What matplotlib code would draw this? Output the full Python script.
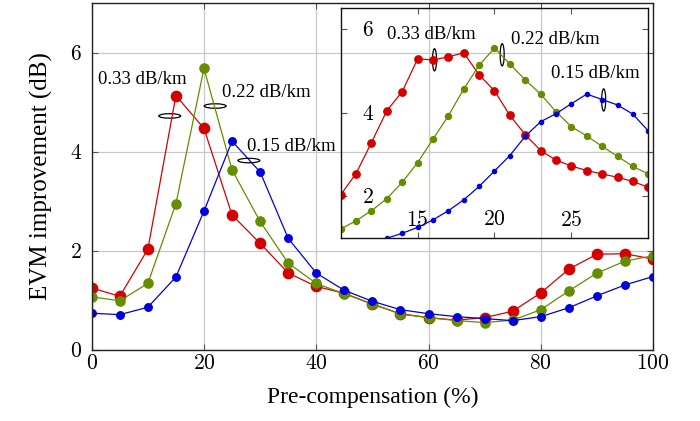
import matplotlib
matplotlib.use('Agg')
import matplotlib.pyplot as plt
from matplotlib.patches import Ellipse
from matplotlib.ticker import FuncFormatter

plt.rcParams['font.family'] = ['Liberation Serif', 'DejaVu Serif']
plt.rcParams['mathtext.fontset'] = 'cm'

# main plot data
x_main = [0, 5, 10, 15, 20, 25, 30, 35, 40, 45, 50, 55, 60, 65, 70, 75, 80, 85, 90, 95, 100]
red_main = [1.25, 1.08, 2.03, 5.13, 4.47, 2.72, 2.15, 1.55, 1.28, 1.14, 0.92, 0.73, 0.65, 0.60, 0.65, 0.78, 1.15, 1.63, 1.93, 1.94, 1.83]
green_main = [1.07, 0.99, 1.34, 2.95, 5.68, 3.63, 2.59, 1.75, 1.34, 1.13, 0.93, 0.72, 0.65, 0.59, 0.55, 0.60, 0.81, 1.19, 1.55, 1.79, 1.90]
blue_main = [0.74, 0.71, 0.86, 1.47, 2.80, 4.21, 3.59, 2.25, 1.55, 1.20, 0.98, 0.81, 0.73, 0.67, 0.63, 0.59, 0.67, 0.85, 1.09, 1.31, 1.48]

# inset data
x_in = list(range(10, 31))
red_in = [2.04, 2.55, 3.29, 4.05, 4.51, 5.29, 5.27, 5.34, 5.44, 4.91, 4.53, 3.94, 3.48, 3.10, 2.87, 2.73, 2.62, 2.54, 2.46, 2.36, 2.22]
green_in = [1.22, 1.42, 1.66, 1.95, 2.34, 2.81, 3.37, 3.93, 4.57, 5.14, 5.55, 5.17, 4.79, 4.45, 4.03, 3.67, 3.45, 3.20, 2.96, 2.72, 2.54]
blue_in = [0.70, 0.80, 0.90, 1.00, 1.12, 1.26, 1.44, 1.66, 1.92, 2.24, 2.61, 2.98, 3.44, 3.79, 3.98, 4.22, 4.45, 4.32, 4.19, 3.97, 3.57]

labels = ['0.33 dB/km', '0.22 dB/km', '0.15 dB/km']
c_red = '#d40000'
c_green = '#668c00'
c_blue = '#0000dc'

fig = plt.figure(figsize=(7, 4.21), dpi=100)
ax = fig.add_axes([0.131, 0.169, 0.802, 0.824])

ax.plot(x_main, red_main, color=c_red, marker='o', ms=7.4, lw=0.9)
ax.plot(x_main, green_main, color=c_green, marker='o', ms=6.6, lw=0.9)
ax.plot(x_main, blue_main, color=c_blue, marker='o', ms=5.4, lw=0.9)

ax.set_xlim(0, 100)
ax.set_ylim(0, 7)
ax.set_xticks([0, 20, 40, 60, 80, 100])
ax.set_yticks([0, 2, 4, 6])
ax.grid(True, color='#c8c8c8', lw=0.9)
ax.set_axisbelow(True)
ax.tick_params(direction='in', length=4, color='#555555', top=True, right=True,
               labelsize=15.5)
ax.tick_params(axis='y', pad=7)
ax.tick_params(axis='x', pad=4)
fmt = FuncFormatter(lambda v, p: '$%g$' % v)
ax.xaxis.set_major_formatter(fmt)
ax.yaxis.set_major_formatter(fmt)
for s in ax.spines.values():
    s.set_color('#222222')
    s.set_linewidth(1.0)
ax.set_xlabel('Pre-compensation (%)', fontsize=17, labelpad=9)
ax.set_ylabel('EVM improvement (dB)', fontsize=18, labelpad=12)

# annotations in main plot
ax.text(1.1, 5.46, labels[0], fontsize=13.5, va='center', ha='left')
ax.text(23.2, 5.2, labels[1], fontsize=13.5, va='center', ha='left')
ax.text(27.7, 4.1, labels[2], fontsize=13.5, va='center', ha='left')
for cx, cy in [(13.9, 4.72), (22.0, 4.92), (28.0, 3.82)]:
    ax.add_patch(Ellipse((cx, cy), 3.9, 0.09, fill=False, color='black', lw=0.9))

# inset
axi = fig.add_axes([0.4867, 0.434, 0.4394, 0.546])
axi.patch.set_alpha(0)
axi.plot(x_in, red_in, color=c_red, marker='o', ms=5.3, lw=0.9)
axi.plot(x_in, green_in, color=c_green, marker='o', ms=4.3, lw=0.9)
axi.plot(x_in, blue_in, color=c_blue, marker='o', ms=3.0, lw=0.9)
axi.set_xlim(10, 30)
axi.set_ylim(1, 6.5)
axi.set_xticks([15, 20, 25])
axi.set_yticks([2, 4, 6])
axi.xaxis.set_major_formatter(fmt)
axi.yaxis.set_major_formatter(fmt)
axi.tick_params(direction='in', length=4, color='#555555', top=True, right=True,
                labelsize=15.5)
axi.tick_params(axis='y', pad=-24)
axi.tick_params(axis='x', pad=-19.5)
for s in axi.spines.values():
    s.set_color('#111111')
    s.set_linewidth(1.0)

axi.text(13.03, 5.87, labels[0], fontsize=13.5, va='center', ha='left')
axi.text(21.1, 5.75, labels[1], fontsize=13.5, va='center', ha='left')
axi.text(23.7, 4.95, labels[2], fontsize=13.5, va='center', ha='left')
for cx, cy in [(16.1, 5.27), (20.5, 5.39), (27.1, 4.31)]:
    axi.add_patch(Ellipse((cx, cy), 0.26, 0.53, fill=False, color='black', lw=0.9))

fig.savefig('out.png', dpi=100)
